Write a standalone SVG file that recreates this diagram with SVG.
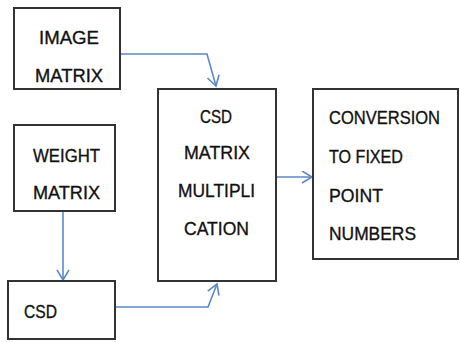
<svg xmlns="http://www.w3.org/2000/svg" width="460" height="342" viewBox="0 0 460 342">
<style>
.box{fill:#fff;stroke:#333;stroke-width:2}
.t{font-family:"Liberation Sans",Arial,sans-serif;font-size:19px;fill:#111;stroke:#111;stroke-width:0.35}
.c{fill:none;stroke:#5b89c8;stroke-width:1.6}
</style>
<defs>
<marker id="ah" markerUnits="userSpaceOnUse" markerWidth="14" markerHeight="14" refX="11" refY="6.5" orient="auto">
<path d="M1,0.5 L11,6.5 L1,12.5" fill="none" stroke="#5b89c8" stroke-width="1.6"/>
</marker>
</defs>
<rect width="460" height="342" fill="#fff"/>
<g id="connectors">
<path class="c" d="M120,54 H207 L216,86" marker-end="url(#ah)"/>
<path class="c" d="M63,211 V280" marker-end="url(#ah)"/>
<path class="c" d="M115,307 H208 L217,284" marker-end="url(#ah)"/>
<path class="c" d="M276,177 H312" marker-end="url(#ah)"/>
</g>
<g id="image-matrix">
<rect class="box" x="14" y="8" width="106" height="81"/>
<text class="t" x="39" y="44" textLength="60" lengthAdjust="spacingAndGlyphs">IMAGE</text>
<text class="t" x="35" y="82" textLength="68" lengthAdjust="spacingAndGlyphs">MATRIX</text>
</g>
<g id="weight-matrix">
<rect class="box" x="14" y="125" width="101" height="86"/>
<text class="t" x="33" y="162" textLength="67" lengthAdjust="spacingAndGlyphs">WEIGHT</text>
<text class="t" x="33" y="199" textLength="67" lengthAdjust="spacingAndGlyphs">MATRIX</text>
</g>
<g id="csd">
<rect class="box" x="8" y="281" width="107" height="58"/>
<text class="t" x="24" y="318" textLength="33" lengthAdjust="spacingAndGlyphs">CSD</text>
</g>
<g id="csd-matrix-multiplication">
<rect class="box" x="158" y="89" width="118" height="192"/>
<text class="t" x="200" y="123" textLength="32" lengthAdjust="spacingAndGlyphs">CSD</text>
<text class="t" x="184" y="159" textLength="66" lengthAdjust="spacingAndGlyphs">MATRIX</text>
<text class="t" x="178" y="197" textLength="77" lengthAdjust="spacingAndGlyphs">MULTIPLI</text>
<text class="t" x="184" y="235" textLength="65" lengthAdjust="spacingAndGlyphs">CATION</text>
</g>
<g id="conversion">
<rect class="box" x="313" y="89" width="145" height="170"/>
<text class="t" x="329" y="124" textLength="111" lengthAdjust="spacingAndGlyphs">CONVERSION</text>
<text class="t" x="329" y="163" textLength="74" lengthAdjust="spacingAndGlyphs">TO FIXED</text>
<text class="t" x="329" y="202" textLength="54" lengthAdjust="spacingAndGlyphs">POINT</text>
<text class="t" x="329" y="240" textLength="87" lengthAdjust="spacingAndGlyphs">NUMBERS</text>
</g>
</svg>
